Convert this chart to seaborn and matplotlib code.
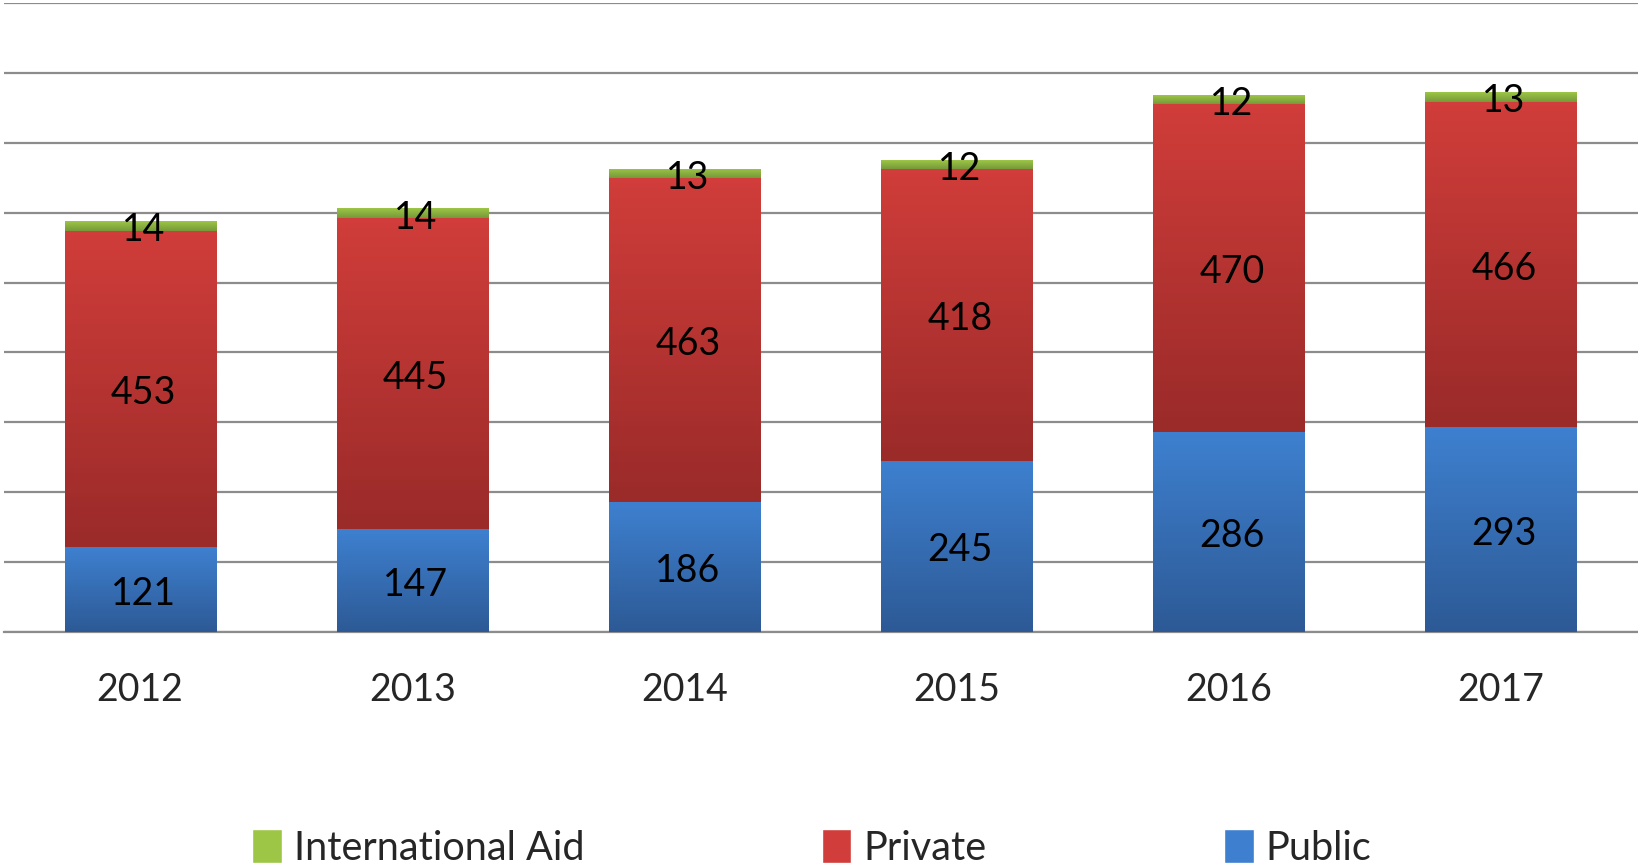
import numpy as np
import matplotlib.pyplot as plt
import seaborn as sns
from matplotlib.patches import Patch
from matplotlib.colors import LinearSegmentedColormap

years = ['2012', '2013', '2014', '2015', '2016', '2017']
public = [121, 147, 186, 245, 286, 293]
private = [453, 445, 463, 418, 470, 466]
intl_aid = [14, 14, 13, 12, 12, 13]

# (top colour, bottom colour) for the Excel-like gradient
grad = {
    'Public': ('#3e80cf', '#2d5a96'),
    'Private': ('#d03d3a', '#9a2b29'),
    'International Aid': ('#9dc646', '#76993a'),
}

sns.set_style('white')
plt.rcParams['font.family'] = ['Lato', 'DejaVu Sans']

fig = plt.figure(figsize=(16.38, 8.68), dpi=100)
ax = fig.add_axes([0.0025, 0.272, 0.9975, 0.7245])

bottom_priv = np.array(public)
bottom_aid = bottom_priv + np.array(private)
layers = [('Public', public, np.zeros(6)),
          ('Private', private, bottom_priv),
          ('International Aid', intl_aid, bottom_aid)]

for name, vals, bot in layers:
    n0 = len(ax.patches)
    sns.barplot(x=years, y=vals, bottom=bot, color=grad[name][0], width=0.555,
                ax=ax, zorder=3, linewidth=0)
    cmap = LinearSegmentedColormap.from_list(name, [grad[name][1], grad[name][0]])
    for p, v in zip(ax.patches[n0:], vals):
        x0, y0, w, h = p.get_x(), p.get_y(), p.get_width(), p.get_height()
        img = ax.imshow(np.linspace(0, 1, 64).reshape(-1, 1), cmap=cmap, aspect='auto',
                        origin='lower', extent=(x0, x0 + w, y0, y0 + h), zorder=4)
        img.set_clip_path(p)
        ax.annotate(str(v), (x0 + w / 2, y0 + h / 2), xytext=(2.5, -3),
                    textcoords='offset points', ha='center', va='center',
                    fontsize=27, color='black', zorder=5)

ax.set_xlim(-0.5, 5.5 + 0.005)
ax.set_ylim(0, 900)
ax.set_yticks(range(0, 901, 100))
ax.yaxis.grid(True, color='#8c8c8c', linewidth=1.6, zorder=0)
ax.set_axisbelow(True)
ax.tick_params(axis='y', left=False, labelleft=False)
ax.set_xticks(range(6))
ax.set_xticklabels(years, fontsize=27)
ax.tick_params(axis='x', length=0, pad=29)
ax.set_xticks(np.arange(-0.5, 6, 1), minor=True)
ax.tick_params(axis='x', which='minor', length=13, width=1.4, color='#8c8c8c')
for s in ['top', 'right', 'left']:
    ax.spines[s].set_visible(False)
ax.spines['bottom'].set_color('#8c8c8c')
ax.spines['bottom'].set_linewidth(1.6)
ax.set_xlabel('')
ax.set_ylabel('')

handles = [Patch(facecolor=grad[n][0], label=n) for n in ['International Aid', 'Private', 'Public']]
fig.legend(handles=handles, loc='center', bbox_to_anchor=(0.4955, 0.023), ncol=3,
           frameon=False, fontsize=28.5, handlelength=0.75, handleheight=0.95,
           handletextpad=0.3, columnspacing=6.0)

fig.savefig('out.png', dpi=100)
